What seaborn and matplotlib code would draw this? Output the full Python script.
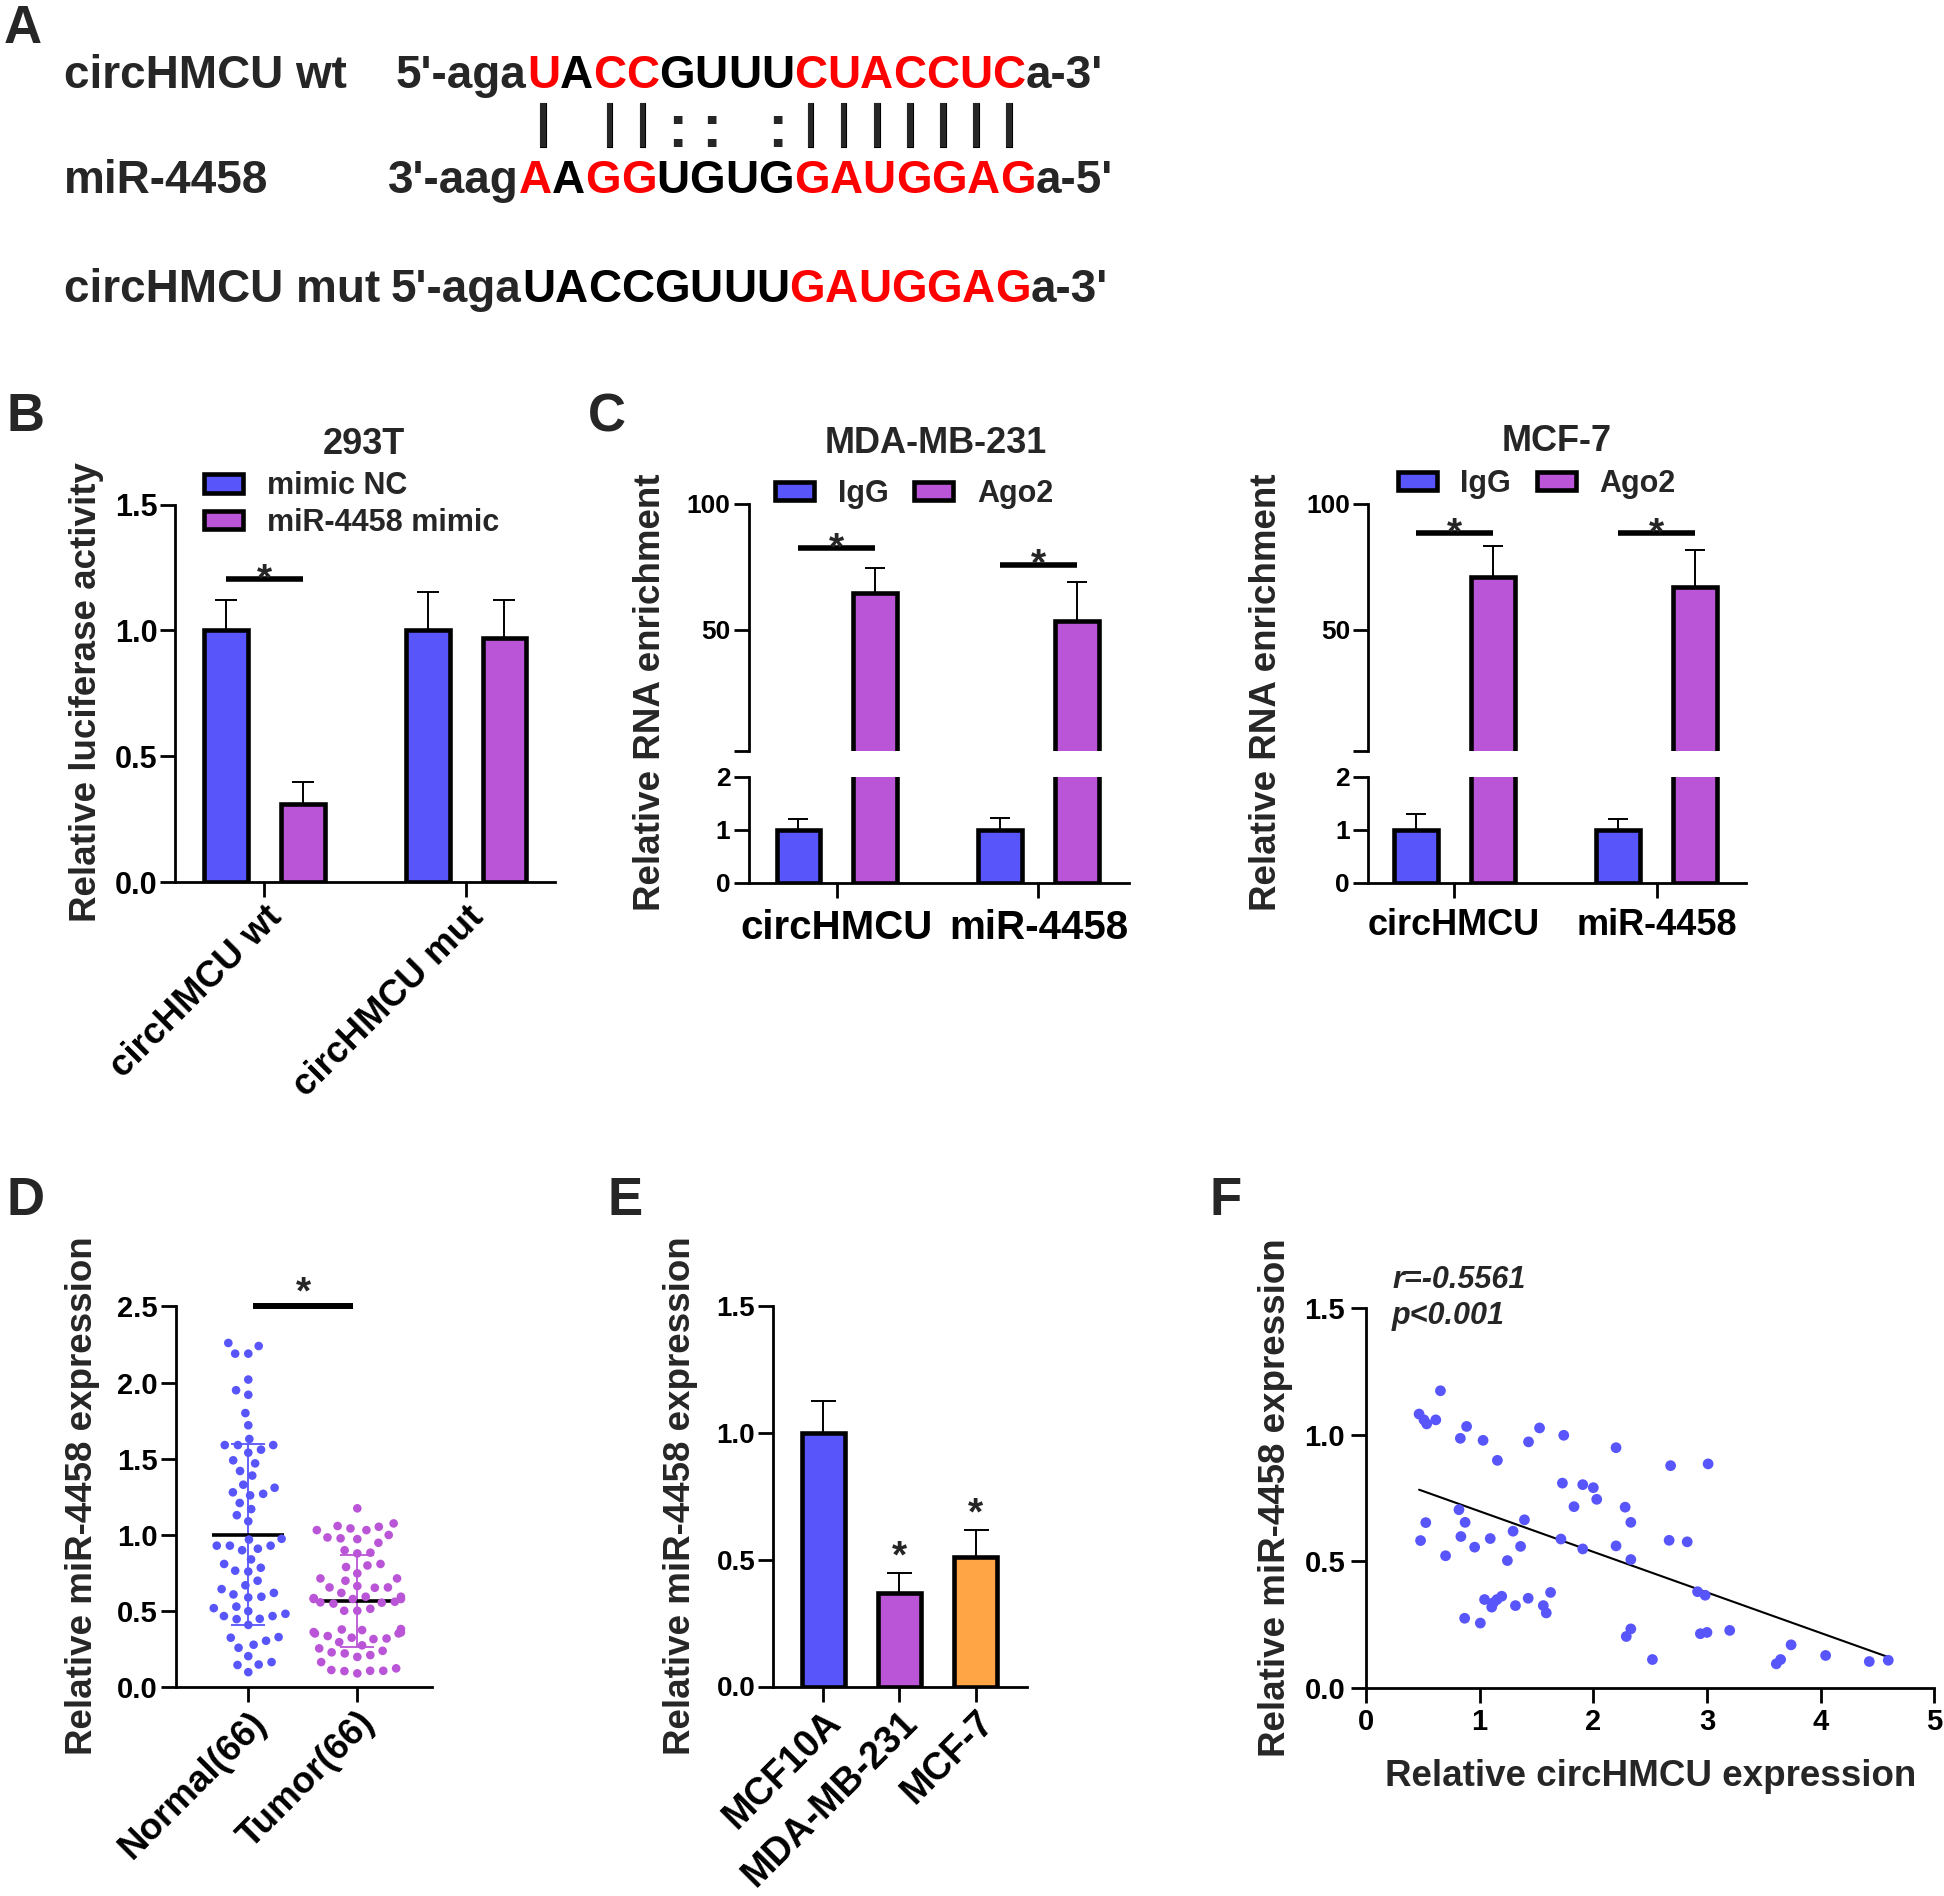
import numpy as np
import pandas as pd
import matplotlib
matplotlib.use("Agg")
import matplotlib.pyplot as plt
import matplotlib.patheffects as pe
from matplotlib.patches import Patch
import seaborn as sns

sns.set_style("ticks")
plt.rcParams["font.family"] = ["Liberation Sans", "DejaVu Sans"]
plt.rcParams["font.weight"] = "bold"
plt.rcParams["axes.labelweight"] = "bold"
plt.rcParams["axes.edgecolor"] = "black"

W, H = 1944, 1896
BLUE, PURPLE, ORANGE, RED = "#5856FA", "#B955D6", "#FFA546", "#FF0000"

# ---------------- data ----------------
# Panel A
a_wt_label, a_mir_label, a_mut_label = "circHMCU wt", "miR-4458", "circHMCU mut"
a_wt_prefix, a_wt_core, a_wt_red, a_wt_suffix = "5'-aga", "UACCGUUUCUACCUC", "101100001111111", "a-3'"
a_mir_prefix, a_mir_core, a_mir_red, a_mir_suffix = "3'-aag", "AAGGUGUGGAUGGAG", "101100001111111", "a-5'"
a_mut_prefix, a_mut_core, a_mut_red, a_mut_suffix = "5'-aga", "UACCGUUUGAUGGAG", "000000001111111", "a-3'"
a_pairing = "| ||:: :|||||||"

# Panel B
b_groups = ["circHMCU wt", "circHMCU mut"]
b_hue = ["mimic NC", "miR-4458 mimic"]
b_nc = [1.00, 1.00]
b_nc_sd = [0.122, 0.153]
b_mimic = [0.31, 0.97]
b_mimic_sd = [0.088, 0.15]
b_sig = 1.204

# Panel C
c_targets = ["circHMCU", "miR-4458"]
c_hue = ["IgG", "Ago2"]
mda_igg = [1.0, 1.0]
mda_igg_sd = [0.20, 0.23]
mda_ago2 = [64.5, 53.5]
mda_ago2_sd = [10.0, 15.5]
mda_sig = [82.3, 75.8]
mcf_igg = [1.0, 1.0]
mcf_igg_sd = [0.29, 0.20]
mcf_ago2 = [71.0, 67.0]
mcf_ago2_sd = [12.0, 14.5]
mcf_sig = [88.3, 88.3]

# Panel D
d_groups = ["Normal(66)", "Tumor(66)"]
d_normal = [2.19, 2.24, 2.19, 2.26, 2.02, 1.95, 1.92, 1.80, 1.72, 1.63,
            1.59, 1.59, 1.59, 1.56, 1.54, 1.49, 1.47, 1.42, 1.39, 1.33,
            1.31, 1.28, 1.27, 1.26, 1.21, 1.17, 1.13, 1.09, 0.975, 0.97,
            0.93, 0.93, 0.93, 0.91, 0.90, 0.84, 0.81, 0.785, 0.766, 0.76,
            0.70, 0.67, 0.645, 0.62, 0.61, 0.595, 0.59, 0.53, 0.52, 0.50,
            0.483, 0.468, 0.468, 0.448, 0.45, 0.41, 0.33, 0.326, 0.306, 0.28,
            0.26, 0.205, 0.166, 0.15, 0.147, 0.10]
d_tumor = [1.175, 1.076, 1.059, 1.054, 1.043, 1.032, 1.032, 1.000, 0.978, 0.973,
           0.984, 0.949, 0.90, 0.884, 0.879, 0.81, 0.80, 0.79, 0.748, 0.715,
           0.715, 0.70, 0.665, 0.656, 0.656, 0.654, 0.62, 0.595, 0.595, 0.586,
           0.58, 0.58, 0.58, 0.558, 0.55, 0.556, 0.562, 0.516, 0.503, 0.503,
           0.38, 0.376, 0.383, 0.361, 0.363, 0.354, 0.354, 0.337, 0.326, 0.321,
           0.317, 0.297, 0.276, 0.256, 0.24, 0.223, 0.212, 0.23, 0.20, 0.166,
           0.114, 0.109, 0.109, 0.125, 0.107, 0.092]

# Panel E
e_cells = ["MCF10A", "MDA-MB-231", "MCF-7"]
e_vals = [1.0, 0.37, 0.51]
e_sd = [0.127, 0.079, 0.108]

# Panel F
f_x = [0.467, 0.51, 0.534, 0.614, 0.655, 0.885, 0.83, 1.03, 1.156, 1.43,
       1.527, 1.74, 2.2, 2.68, 3.01, 1.728, 1.907, 2.0, 2.03, 1.83,
       2.28, 2.33, 0.818, 0.872, 0.526, 0.48, 0.835, 0.70, 0.956, 1.093,
       1.294, 1.394, 1.36, 1.244, 1.715, 1.907, 2.2, 2.33, 2.667, 2.826,
       1.043, 1.106, 1.152, 1.194, 1.315, 1.427, 1.624, 1.56, 1.586, 0.868,
       1.006, 2.917, 2.984, 2.33, 2.29, 2.942, 3.0, 3.2, 2.52, 3.61,
       3.648, 3.74, 4.044, 4.428, 4.595, 1.12]
f_y = [1.081, 1.058, 1.042, 1.058, 1.173, 1.032, 0.985, 0.977, 0.898, 0.971,
       1.026, 0.997, 0.948, 0.877, 0.884, 0.808, 0.802, 0.79, 0.744, 0.715,
       0.713, 0.653, 0.703, 0.653, 0.652, 0.581, 0.597, 0.521, 0.555, 0.589,
       0.618, 0.663, 0.558, 0.502, 0.587, 0.548, 0.56, 0.506, 0.582, 0.576,
       0.348, 0.318, 0.348, 0.361, 0.324, 0.353, 0.376, 0.324, 0.295, 0.274,
       0.255, 0.379, 0.365, 0.232, 0.202, 0.213, 0.218, 0.226, 0.111, 0.094,
       0.111, 0.169, 0.127, 0.103, 0.108, 0.335]
f_r_text, f_p_text = "r=-0.5561", "p<0.001"

# ---------------- figure ----------------
fig = plt.figure(figsize=(W / 100, H / 100), dpi=100)
ov = fig.add_axes([0, 0, 1, 1])
ov.set_axis_off()
ov.set_xlim(0, W)
ov.set_ylim(H, 0)
ov.set_zorder(10)

EDGE = 3.3
SPINE = 2.0
ROT_FS = 26.5


def add_ax(x0, y0, x1, y1):
    return fig.add_axes([x0 / W, 1 - y1 / H, (x1 - x0) / W, (y1 - y0) / H])


def style(ax, size, pad=2):
    sns.despine(ax=ax)
    for s in ("left", "bottom"):
        ax.spines[s].set_linewidth(SPINE)
    ax.tick_params(axis="both", length=11, width=SPINE, labelsize=size, pad=pad,
                   color="black", labelcolor="black")
    ax.set_xlabel("")
    ax.set_ylabel("")


def centers(patches):
    return [(p.get_x() + p.get_width() / 2, p.get_y() + p.get_height()) for p in patches]


def add_err(ax, patches, sds, cap=8, lw=1.4):
    for (cx, top), sd in zip(centers(patches), sds):
        ax.errorbar([cx], [top], yerr=[[0], [sd]], fmt="none", ecolor="black",
                    elinewidth=lw, capsize=cap, capthick=lw, zorder=1)


def star(ax, x, y, dy, size=28):
    ax.annotate("*", xy=(x, y), xytext=(0, dy), textcoords="offset points",
                ha="center", va="baseline", fontsize=size, fontweight="bold",
                annotation_clip=False)


def ylabel(x, y, s, size=26.5):
    ov.text(x, y, s, rotation=90, ha="center", va="center", fontsize=size, fontweight="bold")


# panel letters
for letter, lx, ly in [("A", 4, 43), ("B", 6, 431), ("C", 588, 431),
                       ("D", 6, 1215), ("E", 607, 1215), ("F", 1209, 1215)]:
    ov.text(lx, ly, letter, fontsize=38, fontweight="bold", ha="left", va="baseline")

# ---------------- Panel A ----------------
AFS = 33


def seq_row(x, y, prefix, core, redmask, suffix):
    t = ov.text(x, y, prefix, fontsize=AFS, fontweight="bold", ha="left", va="baseline")
    prev = t
    letters = []
    for ch, r in zip(core, redmask):
        prev = ov.annotate(ch, xy=(1, 0), xycoords=prev, ha="left", va="bottom",
                           fontsize=AFS, fontweight="bold",
                           color=RED if r == "1" else "black")
        letters.append(prev)
    ov.annotate(suffix, xy=(1, 0), xycoords=prev, ha="left", va="bottom",
                fontsize=AFS, fontweight="bold")
    return letters


ov.text(64, 88, a_wt_label, fontsize=AFS, fontweight="bold", ha="left", va="baseline")
ov.text(64, 193, a_mir_label, fontsize=AFS, fontweight="bold", ha="left", va="baseline")
ov.text(64, 302, a_mut_label, fontsize=AFS, fontweight="bold", ha="left", va="baseline")
wt_letters = seq_row(396, 88, a_wt_prefix, a_wt_core, a_wt_red, a_wt_suffix)
seq_row(388, 193, a_mir_prefix, a_mir_core, a_mir_red, a_mir_suffix)
seq_row(391, 302, a_mut_prefix, a_mut_core, a_mut_red, a_mut_suffix)
thick = [pe.withStroke(linewidth=0.8, foreground="black")]
for ch, lt in zip(a_pairing, wt_letters):
    if ch == "|":
        ov.annotate("|", xy=(0.5, 0), xycoords=lt, xytext=(0, -19), textcoords="offset points",
                    ha="center", va="center", fontsize=33, fontweight="bold", path_effects=thick)
    elif ch == ":":
        ov.annotate(":", xy=(0.5, 0), xycoords=lt, xytext=(0, -24), textcoords="offset points",
                    ha="center", va="center", fontsize=44, fontweight="bold")

# ---------------- Panel B ----------------
axB = add_ax(175, 504.7, 555.4, 882)
dfB = pd.DataFrame({"group": b_groups * 2,
                    "treat": [b_hue[0]] * 2 + [b_hue[1]] * 2,
                    "value": b_nc + b_mimic})
sns.barplot(data=dfB, x="group", y="value", hue="treat", order=b_groups, hue_order=b_hue,
            palette=[BLUE, PURPLE], width=0.76, gap=0.43, edgecolor="black",
            linewidth=EDGE, errorbar=None, legend=False, saturation=1, ax=axB)
add_err(axB, axB.containers[0].patches, b_nc_sd)
add_err(axB, axB.containers[1].patches, b_mimic_sd)
style(axB, 22, pad=1.5)
axB.set_xlim(-0.443, 1.443)
axB.set_ylim(0, 1.5)
axB.set_yticks([0, 0.5, 1.0, 1.5], ["0.0", "0.5", "1.0", "1.5"])
axB.set_xticks([0, 1], b_groups, rotation=45, ha="right", rotation_mode="anchor", fontsize=ROT_FS)
cb0 = centers(axB.containers[0].patches)[0][0]
cb1 = centers(axB.containers[1].patches)[0][0]
axB.plot([cb0, cb1], [b_sig, b_sig], color="black", lw=4, solid_capstyle="butt", clip_on=False)
star(axB, (cb0 + cb1) / 2, b_sig, -8)
ov.text(364, 444, "293T", ha="center", va="center", fontsize=26, fontweight="bold")
ylabel(86, 692, "Relative luciferase activity")
fig.legend([Patch(facecolor=c, edgecolor="black", linewidth=EDGE) for c in (BLUE, PURPLE)], b_hue,
           loc="center left", bbox_to_anchor=(203.6 / W, 1 - 504.5 / H), ncol=1, frameon=False,
           prop={"size": 22, "weight": "bold"}, handlelength=1.29, handleheight=0.55,
           handletextpad=0.78, labelspacing=0.2, borderpad=0, borderaxespad=0)


# ---------------- Panel C ----------------
def panel_c(x0, x1, igg, igg_sd, ago, ago_sd, sig, xlims, tick_size, lab_size, lab_pad,
            leg_xy, title, title_xy, ylab_x):
    ax_up = add_ax(x0, 503.6, x1, 750.6)
    ax_lo = add_ax(x0, 776.8, x1, 882.9)
    df = pd.DataFrame({"target": c_targets * 2,
                       "ab": [c_hue[0]] * 2 + [c_hue[1]] * 2,
                       "value": igg + ago})
    for ax in (ax_up, ax_lo):
        sns.barplot(data=df, x="target", y="value", hue="ab", order=c_targets, hue_order=c_hue,
                    palette=[BLUE, PURPLE], width=0.76, gap=0.43, edgecolor="black",
                    linewidth=EDGE, errorbar=None, legend=False, saturation=1, ax=ax)
        style(ax, tick_size, pad=2)
        ax.set_xlim(*xlims)
    add_err(ax_lo, ax_lo.containers[0].patches, igg_sd, cap=7.5)
    add_err(ax_up, ax_up.containers[1].patches, ago_sd, cap=7.5)
    ax_up.set_ylim(2, 100)
    ax_up.set_yticks([2, 50, 100], ["", "50", "100"])
    ax_up.spines["bottom"].set_visible(False)
    ax_up.tick_params(axis="x", bottom=False, labelbottom=False)
    ax_lo.set_ylim(0, 2)
    ax_lo.set_yticks([0, 1, 2], ["0", "1", "2"])
    ax_lo.set_xticks([0, 1], c_targets, fontsize=lab_size)
    ax_lo.tick_params(axis="x", pad=lab_pad)
    c0 = centers(ax_up.containers[0].patches)
    c1 = centers(ax_up.containers[1].patches)
    for i in range(2):
        xa, xb = c0[i][0], c1[i][0]
        ax_up.plot([xa, xb], [sig[i], sig[i]], color="black", lw=4, solid_capstyle="butt")
        star(ax_up, (xa + xb) / 2, sig[i], -8)
    ov.text(title_xy[0], title_xy[1], title, ha="center", va="center", fontsize=26, fontweight="bold")
    ylabel(ylab_x, 692.5, "Relative RNA enrichment")
    fig.legend([Patch(facecolor=c, edgecolor="black", linewidth=EDGE) for c in (BLUE, PURPLE)], c_hue,
               loc="center left", bbox_to_anchor=(leg_xy[0] / W, 1 - leg_xy[1] / H), ncol=2,
               frameon=False, prop={"size": 22, "weight": "bold"}, handlelength=1.27,
               handleheight=0.55, handletextpad=0.78, columnspacing=0.85,
               borderpad=0, borderaxespad=0)


panel_c(748.5, 1129.3, mda_igg, mda_igg_sd, mda_ago2, mda_ago2_sd, mda_sig, (-0.4375, 1.451),
        19, 29, 8, (775, 493.6), "MDA-MB-231", (936, 443), 650)
panel_c(1368.1, 1746.2, mcf_igg, mcf_igg_sd, mcf_ago2, mcf_ago2_sd, mcf_sig, (-0.425, 1.442),
        19, 26, 7, (1397.7, 484), "MCF-7", (1557, 441), 1266)

# ---------------- Panel D ----------------
axD = add_ax(176, 1306.4, 432, 1687.4)
dfD = pd.DataFrame({"group": [d_groups[0]] * len(d_normal) + [d_groups[1]] * len(d_tumor),
                    "value": d_normal + d_tumor})
sns.swarmplot(data=dfD, x="group", y="value", hue="group", order=d_groups, hue_order=d_groups,
              palette=[BLUE, PURPLE], size=6.2, linewidth=2.8, edgecolor=(0, 0, 0, 0),
              legend=False, ax=axD, zorder=3)
for i, (vals, c) in enumerate([(d_normal, BLUE), (d_tumor, PURPLE)]):
    m = float(np.mean(vals))
    s = float(np.std(vals, ddof=1))
    axD.errorbar([i], [m], yerr=[s], fmt="none", ecolor=c, elinewidth=1.3, capsize=12,
                 capthick=1.3, zorder=2)
    axD.hlines(m, i - 0.33, i + 0.33, color="black", lw=2.6, zorder=2)
style(axD, 21, pad=2)
axD.set_xlim(-0.663, 1.685)
axD.set_ylim(0, 2.5)
axD.set_yticks([0, 0.5, 1.0, 1.5, 2.0, 2.5], ["0.0", "0.5", "1.0", "1.5", "2.0", "2.5"])
axD.set_xticks([0, 1], d_groups, rotation=45, ha="right", rotation_mode="anchor", fontsize=ROT_FS)
axD.plot([0.046, 0.963], [2.5, 2.5], color="black", lw=4.3, solid_capstyle="butt", clip_on=False)
star(axD, 0.505, 2.5, 2)
ylabel(82, 1496, "Relative miR-4458 expression")

# ---------------- Panel E ----------------
axE = add_ax(773.3, 1306.4, 1027.3, 1686.5)
dfE = pd.DataFrame({"cell": e_cells, "value": e_vals})
sns.barplot(data=dfE, x="cell", y="value", hue="cell", order=e_cells, hue_order=e_cells,
            palette=[BLUE, PURPLE, ORANGE], width=0.57, edgecolor="black", linewidth=EDGE,
            errorbar=None, legend=False, saturation=1, ax=axE)
e_patches = sorted([p for p in axE.patches if p.get_height() > 0], key=lambda p: p.get_x())
add_err(axE, e_patches, e_sd, cap=9)
for (cx, top), sd in list(zip(centers(e_patches), e_sd))[1:]:
    star(axE, cx, top + sd, 4)
style(axE, 20, pad=2)
axE.set_xlim(-0.656, 2.68)
axE.set_ylim(0, 1.5)
axE.set_yticks([0, 0.5, 1.0, 1.5], ["0.0", "0.5", "1.0", "1.5"])
axE.set_xticks([0, 1, 2], e_cells, rotation=45, ha="right", rotation_mode="anchor", fontsize=27)
ylabel(680, 1496, "Relative miR-4458 expression")

# ---------------- Panel F ----------------
axF = add_ax(1366, 1308, 1934.3, 1687.6)
sns.scatterplot(x=f_x, y=f_y, color=BLUE, s=60, edgecolor="none", ax=axF, zorder=3)
sns.regplot(x=f_x, y=f_y, scatter=False, ci=None, truncate=True, color="black",
            line_kws={"linewidth": 1.5}, ax=axF)
style(axF, 21, pad=4)
axF.set_xlim(0, 5)
axF.set_ylim(0, 1.5)
axF.set_xticks([0, 1, 2, 3, 4, 5], ["0", "1", "2", "3", "4", "5"])
axF.set_yticks([0, 0.5, 1.0, 1.5], ["0.0", "0.5", "1.0", "1.5"])
ylabel(1275, 1498, "Relative miR-4458 expression")
ov.text(1651, 1776, "Relative circHMCU expression", ha="center", va="center", fontsize=26.5,
        fontweight="bold")
ov.text(1392, 1280, f_r_text, ha="left", va="center", fontsize=22, fontweight="bold", style="italic")
ov.text(1392, 1316, f_p_text, ha="left", va="center", fontsize=22, fontweight="bold", style="italic")

fig.savefig("out.png", dpi=100)
